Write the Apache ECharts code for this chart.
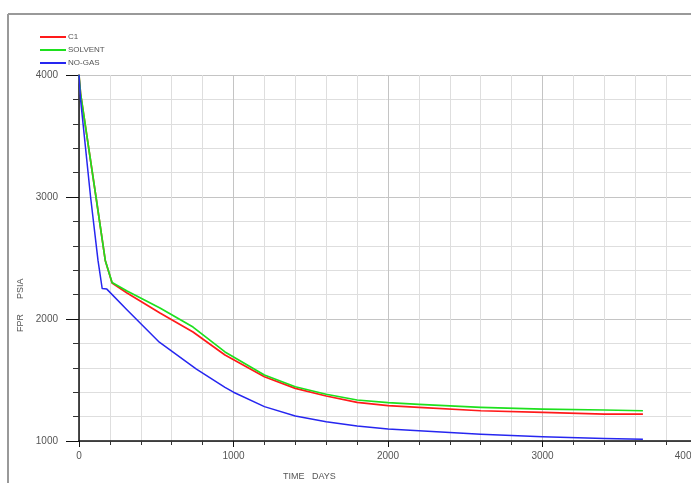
<!DOCTYPE html>
<html>
<head>
<meta charset="utf-8">
<script src="https://cdn.jsdelivr.net/npm/echarts@6/dist/echarts.min.js"></script>
<style>
html,body{margin:0;padding:0;background:#fff;}
#chart{width:691px;height:483px;}
</style>
</head>
<body>
<div id="chart"></div>
<script>
// Data
var seriesNames = ['C1', 'SOLVENT', 'NO-GAS'];

var c1Time = [0, 10, 110, 170, 214, 311, 524, 738, 945, 1200, 1400, 1600, 1800, 2000, 2200, 2600, 3000, 3400, 3650];
var c1Pressure = [4000, 3850, 3000, 2480, 2295, 2213, 2049, 1893, 1705, 1527, 1431, 1369, 1317, 1290, 1275, 1248, 1235, 1221, 1221];

var solventTime = [0, 10, 110, 170, 214, 311, 524, 738, 945, 1200, 1400, 1600, 1800, 2000, 2200, 2600, 3000, 3400, 3650];
var solventPressure = [4000, 3850, 3000, 2480, 2300, 2230, 2090, 1934, 1730, 1541, 1445, 1383, 1336, 1314, 1300, 1276, 1262, 1254, 1248];

var noGasTime = [0, 10, 75, 123, 150, 180, 310, 520, 760, 945, 1000, 1200, 1400, 1600, 1800, 2000, 2600, 3000, 3400, 3650];
var noGasPressure = [4000, 3800, 3000, 2480, 2250, 2245, 2075, 1810, 1590, 1440, 1400, 1282, 1205, 1158, 1123, 1098, 1055, 1035, 1021, 1014];

var xTicks = [0, 1000, 2000, 3000, 4000];
var yTicks = [1000, 2000, 3000, 4000];

function pairs(t, p) { return t.map(function (v, i) { return [v, p[i]]; }); }

var chart = echarts.init(document.getElementById('chart'), null, {renderer: 'canvas'});
var txt = '#555';
var fontFam = '"Liberation Sans", Arial, sans-serif';

chart.setOption({
  animation: false,
  backgroundColor: '#fff',
  grid: {left: 79, top: 75, width: 618, height: 366, containLabel: false, outerBoundsMode: 'none'},
  legend: {
    orient: 'vertical', left: 40, top: 33, padding: 0,
    itemWidth: 26, itemHeight: 2, itemGap: 5,
    icon: 'rect',
    textStyle: {fontSize: 8, color: txt, fontFamily: fontFam, padding: [0, 0, 0, -3]},
    data: seriesNames
  },
  xAxis: {
    type: 'value', min: xTicks[0], max: xTicks[xTicks.length - 1], interval: 1000,
    axisLine: {show: true, lineStyle: {color: '#111', width: 1.5}},
    axisTick: {show: true, length: 6, lineStyle: {color: '#111'}},
    minorTick: {show: true, splitNumber: 5, length: 4, lineStyle: {color: '#333'}},
    splitLine: {show: true, lineStyle: {color: '#c4c4c4', width: 1}},
    minorSplitLine: {show: true, lineStyle: {color: '#dedede', width: 1}},
    axisLabel: {fontSize: 10, color: txt, fontFamily: fontFam, margin: 10, alignMaxLabel: 'right',
      formatter: function (v) { return String(v); }}
  },
  yAxis: {
    type: 'value', min: yTicks[0], max: yTicks[yTicks.length - 1], interval: 1000,
    axisLine: {show: true, lineStyle: {color: '#111', width: 1.5}},
    axisTick: {show: true, length: 13, lineStyle: {color: '#111'}},
    minorTick: {show: true, splitNumber: 5, length: 6, lineStyle: {color: '#333'}},
    splitLine: {show: true, lineStyle: {color: '#c4c4c4', width: 1}},
    minorSplitLine: {show: true, lineStyle: {color: '#dedede', width: 1}},
    axisLabel: {fontSize: 10, color: txt, fontFamily: fontFam, margin: 21,
      formatter: function (v) { return String(v); }}
  },
  series: [
    {name: seriesNames[0], type: 'line', data: pairs(c1Time, c1Pressure), showSymbol: false,
     color: '#ff1a1a', lineStyle: {width: 1.7, color: '#ff1a1a', join: 'round'}},
    {name: seriesNames[1], type: 'line', data: pairs(solventTime, solventPressure), showSymbol: false,
     color: '#1ee01e', lineStyle: {width: 1.7, color: '#1ee01e', join: 'round'}},
    {name: seriesNames[2], type: 'line', data: pairs(noGasTime, noGasPressure), showSymbol: false,
     color: '#2626f0', lineStyle: {width: 1.5, color: '#2626f0', join: 'round'}}
  ],
  graphic: [
    {type: 'line', shape: {x1: 8, y1: 14, x2: 691, y2: 14}, style: {stroke: '#999', lineWidth: 2}},
    {type: 'line', shape: {x1: 8, y1: 14, x2: 8, y2: 483}, style: {stroke: '#999', lineWidth: 2}},
    {type: 'text', left: 283, top: 472, style: {text: 'TIME   DAYS', fontSize: 9, fill: txt, fontFamily: fontFam}},
    {type: 'text', x: 16, y: 332, rotation: Math.PI / 2, style: {text: 'FPR      PSIA', fontSize: 9, fill: txt, fontFamily: fontFam}}
  ]
});
</script>
</body>
</html>
